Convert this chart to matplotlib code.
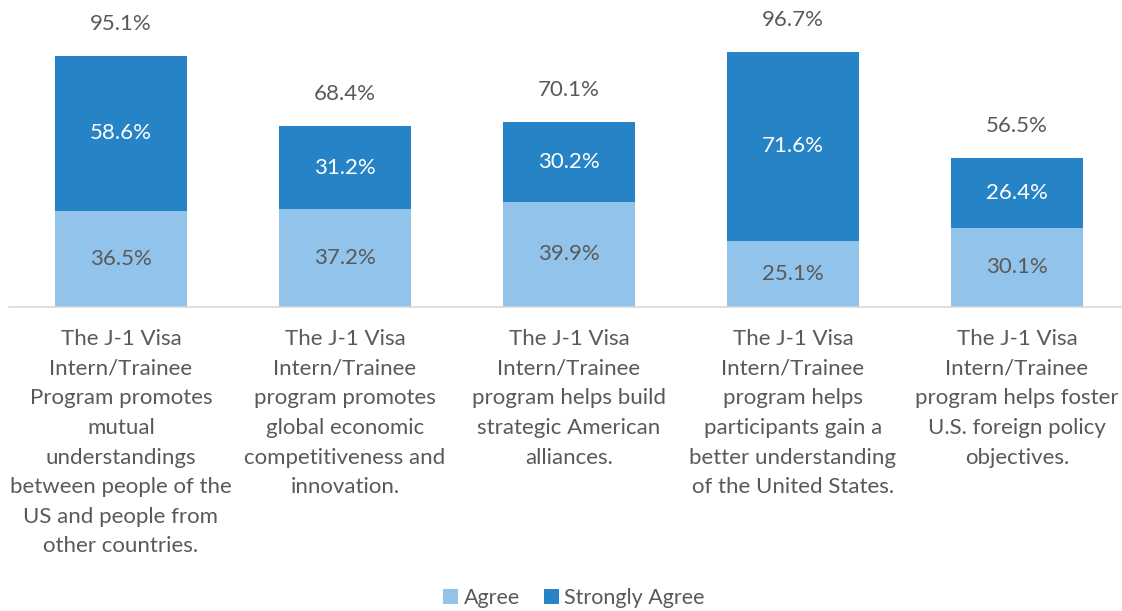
import matplotlib
matplotlib.use("Agg")
import matplotlib.pyplot as plt
import numpy as np

categories = [
    "The J-1 Visa\nIntern/Trainee\nProgram promotes\nmutual\nunderstandings\nbetween people of the\nUS and people from\nother countries.",
    "The J-1 Visa\nIntern/Trainee\nprogram promotes\nglobal economic\ncompetitiveness and\ninnovation.",
    "The J-1 Visa\nIntern/Trainee\nprogram helps build\nstrategic American\nalliances.",
    "The J-1 Visa\nIntern/Trainee\nprogram helps\nparticipants gain a\nbetter understanding\nof the United States.",
    "The J-1 Visa\nIntern/Trainee\nprogram helps foster\nU.S. foreign policy\nobjectives.",
]
agree = [36.5, 37.2, 39.9, 25.1, 30.1]
strongly_agree = [58.6, 31.2, 30.2, 71.6, 26.4]
totals = [95.1, 68.4, 70.1, 96.7, 56.5]

plt.rcParams['font.family'] = ['Lato', 'DejaVu Sans']
TXT = '#595959'
LIGHT = '#92C4EB'
DARK = '#2683C6'
FS = 16

fig = plt.figure(figsize=(11.22, 6.11), dpi=100)
ax = fig.add_axes([9/1122, (611-307)/611, 1120/1122, 264/611])
x = np.arange(len(categories))
w = 0.59
b1 = ax.bar(x, agree, w, color=LIGHT, label='Agree')
b2 = ax.bar(x, strongly_agree, w, bottom=agree, color=DARK, label='Strongly Agree')

for i in range(len(x)):
    ax.text(x[i], agree[i] / 2, f"{agree[i]:.1f}%", ha='center', va='center', fontsize=FS, color=TXT)
    ax.text(x[i], agree[i] + strongly_agree[i] / 2, f"{strongly_agree[i]:.1f}%", ha='center', va='center', fontsize=FS, color='white')
    ax.annotate(f"{totals[i]:.1f}%", (x[i], agree[i] + strongly_agree[i]), xytext=(0, 23),
                textcoords='offset points', ha='center', va='center', fontsize=FS, color=TXT,
                annotation_clip=False)
    ax.annotate(categories[i], (x[i], 0), xytext=(0, -16), textcoords='offset points',
                ha='center', va='top', fontsize=FS, color=TXT, linespacing=1.6,
                annotation_clip=False)

ax.set_xlim(-0.5, 4.5)
ax.set_ylim(0, 100)
ax.set_xticks([])
ax.set_yticks([])
for s in ['top', 'right', 'left']:
    ax.spines[s].set_visible(False)
ax.spines['bottom'].set_color('#D9D9D9')
ax.spines['bottom'].set_linewidth(1.2)

fig.legend(handles=[b1, b2], loc='center', bbox_to_anchor=(574/1122, 1 - 598/611), ncol=2,
           frameon=False, fontsize=15.5, labelcolor=TXT, handlelength=0.7, handleheight=0.7,
           handletextpad=0.25, columnspacing=1.1)

fig.savefig('out.png', dpi=100)
